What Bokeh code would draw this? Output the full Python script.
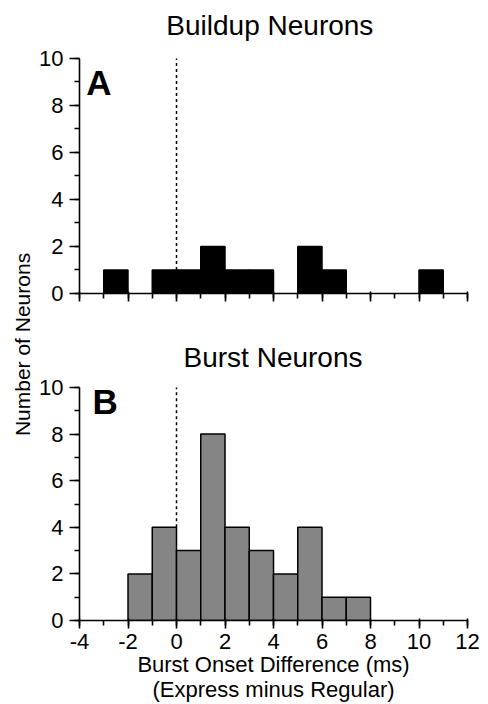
from bokeh.plotting import figure
from bokeh.layouts import row, column
from bokeh.models import Label, SingleIntervalTicker, Range1d, FixedTicker
from bokeh.embed import file_html
from bokeh.resources import INLINE

# ---- data ----
bin_left = list(range(-4, 12))          # 1-ms bins, left edges
bin_width = 1
buildup_counts = [0, 1, 0, 1, 1, 2, 1, 1, 0, 2, 1, 0, 0, 0, 1, 0]
burst_counts = [0, 0, 2, 4, 3, 8, 4, 3, 2, 4, 1, 1, 0, 0, 0, 0]
x_start, x_end = -4, 12
y_start, y_end = 0, 10
x_tick_values = list(range(-4, 13, 2))
panel_titles = ["Buildup Neurons", "Burst Neurons"]
panel_letters = ["A", "B"]
y_label = "Number of Neurons"
x_label = "Burst Onset Difference (ms)\n(Express minus Regular)"

FONT = "Liberation Sans"


def make_panel(counts, fill, height, y_top, mb_bottom, title, title_x, title_y,
               letter, letter_x, letter_y):
    # frame reaches the top of the canvas; the axis is bounded to 0..10,
    # so the headroom above holds the panel title
    p = figure(width=450, height=height, x_range=Range1d(x_start, x_end),
               y_range=Range1d(y_start, y_top), output_backend="svg",
               toolbar_location=None, min_border_left=43, min_border_right=19,
               min_border_top=0, min_border_bottom=mb_bottom)
    p.outline_line_color = None
    p.grid.visible = False

    lefts = [l for l, c in zip(bin_left, counts) if c > 0]
    rights = [l + bin_width for l, c in zip(bin_left, counts) if c > 0]
    tops = [c for c in counts if c > 0]
    p.quad(left=lefts, right=rights, bottom=0, top=tops,
           fill_color=fill, line_color="black", line_width=1.5)

    i0 = bin_left.index(0)
    y0 = max(counts[i0 - 1], counts[i0])
    p.segment(x0=[0], y0=[y0], x1=[0], y1=[y_end], line_color="black",
              line_width=1.5, line_dash="3 3")

    xa = p.xaxis[0]
    xa.ticker = SingleIntervalTicker(interval=2, num_minor_ticks=2)
    xa.axis_line_width = 1.6
    xa.major_tick_line_width = 1.6
    xa.minor_tick_line_width = 1.6
    xa.major_tick_out = 8
    xa.major_tick_in = 2
    xa.minor_tick_out = 5
    xa.minor_tick_in = 0
    xa.major_label_text_font = FONT
    xa.major_label_text_color = "black"
    xa.major_label_standoff = 5
    xa.major_label_text_line_height = 1.0

    ya = p.yaxis[0]
    ya.bounds = (y_start, y_end)
    ya.ticker = SingleIntervalTicker(interval=2, num_minor_ticks=2)
    ya.axis_line_width = 1.6
    ya.major_tick_line_width = 1.6
    ya.minor_tick_line_width = 1.6
    ya.major_tick_out = 10
    ya.major_tick_in = 0
    ya.minor_tick_out = 5
    ya.minor_tick_in = 0
    ya.major_label_text_font = FONT
    ya.major_label_text_font_size = "22px"
    ya.major_label_text_color = "black"
    ya.major_label_standoff = 6

    p.add_layout(Label(x=title_x, y=title_y, text=title, text_align="center",
                       text_baseline="middle", text_font=FONT,
                       text_font_size="28px", text_color="black"))
    p.add_layout(Label(x=letter_x, y=letter_y, text=letter, text_align="left",
                       text_baseline="middle", text_font=FONT,
                       text_font_size="35px", text_font_style="bold",
                       text_color="black"))
    return p


fa = make_panel(buildup_counts, "black", 320, 12.468, 27,
                panel_titles[0], 3.85, 11.40,
                panel_letters[0], -3.72, 8.96)
fa.xaxis[0].major_label_overrides = {t: "" for t in x_tick_values}
fa.xaxis[0].major_label_text_font_size = "1px"

fb = make_panel(burst_counts, "#858585", 384, 12.876, 84,
                panel_titles[1], 3.98, 11.27,
                panel_letters[1], -3.46, 9.40)
xb = fb.xaxis[0]
xb.major_label_text_font_size = "22px"
xb.major_label_overrides = {t: str(t) for t in x_tick_values}
xb.axis_label = x_label
xb.axis_label_text_font = FONT
xb.axis_label_text_font_size = "22px"
xb.axis_label_text_font_style = "normal"
xb.axis_label_text_color = "black"
xb.axis_label_text_line_height = 1.0
xb.axis_label_standoff = 0

lab = figure(width=36, height=704, x_range=Range1d(0, 1), y_range=Range1d(0, 1),
             output_backend="svg", toolbar_location=None,
             min_border_left=33, min_border_right=0, min_border_top=0,
             min_border_bottom=16)
lab.outline_line_color = None
lab.grid.visible = False
lab.xaxis.visible = False
ly = lab.yaxis[0]
ly.ticker = FixedTicker(ticks=[])
ly.axis_line_color = None
ly.major_tick_line_color = None
ly.minor_tick_line_color = None
ly.axis_label = y_label
ly.axis_label_text_font = FONT
ly.axis_label_text_font_size = "21px"
ly.axis_label_text_font_style = "normal"
ly.axis_label_text_color = "black"
ly.axis_label_standoff = 0

layout = row(lab, column(fa, fb))

open("out.html", "w").write(file_html(layout, INLINE))
